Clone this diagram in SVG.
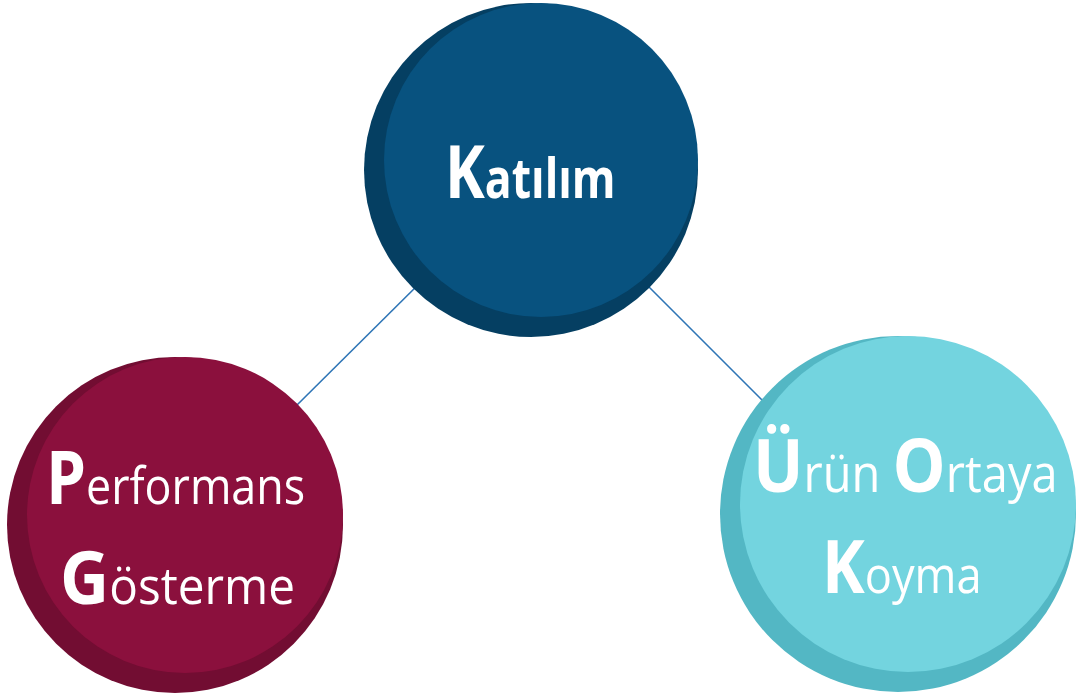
<svg xmlns="http://www.w3.org/2000/svg" width="1076" height="697" viewBox="0 0 1076 697">
<style>
.lbl{font-family:"Open Sans","Noto Sans","Liberation Sans",sans-serif;fill:#FFFFFF}
.big{font-weight:700;font-size:74px}
.reg{font-weight:400;font-size:52px}
.bld{font-weight:700;font-size:55px}
.conn{stroke:#2E75B6;stroke-width:1.6;fill:none}
</style>
<rect width="1076" height="697" fill="#FFFFFF"/>
<g id="connectors">
<line class="conn" x1="295" y1="407" x2="430" y2="273"/>
<line class="conn" x1="635" y1="273" x2="762" y2="400"/>
</g>
<g id="katilim">
<circle cx="531" cy="170" r="167" fill="#053F62"/>
<circle cx="541" cy="160" r="157" fill="#08527F"/>
<text class="lbl" transform="translate(445,198) scale(0.81,1)" x="0" y="0"><tspan class="big">K</tspan><tspan class="bld">atılım</tspan></text>
</g>
<g id="performans">
<circle cx="175" cy="525" r="168" fill="#720D32"/>
<circle cx="185" cy="515" r="158" fill="#8B103D"/>
<text class="lbl" transform="translate(46,504) scale(0.862,1)" x="0" y="0"><tspan class="big">P</tspan><tspan class="reg">erformans</tspan></text>
<text class="lbl" transform="translate(60,604) scale(0.918,1)" x="0" y="0"><tspan class="big">G</tspan><tspan class="reg">österme</tspan></text>
</g>
<g id="urun">
<circle cx="898" cy="514" r="178" fill="#53B7C4"/>
<circle cx="908" cy="504" r="168" fill="#73D4DF"/>
<text class="lbl" transform="translate(753,492) scale(0.904,1)" x="0" y="0"><tspan class="big">Ü</tspan><tspan class="reg">rün </tspan><tspan class="big">O</tspan><tspan class="reg">rtaya</tspan></text>
<text class="lbl" transform="translate(822,593) scale(0.87,1)" x="0" y="0"><tspan class="big">K</tspan><tspan class="reg">oyma</tspan></text>
</g>
</svg>
